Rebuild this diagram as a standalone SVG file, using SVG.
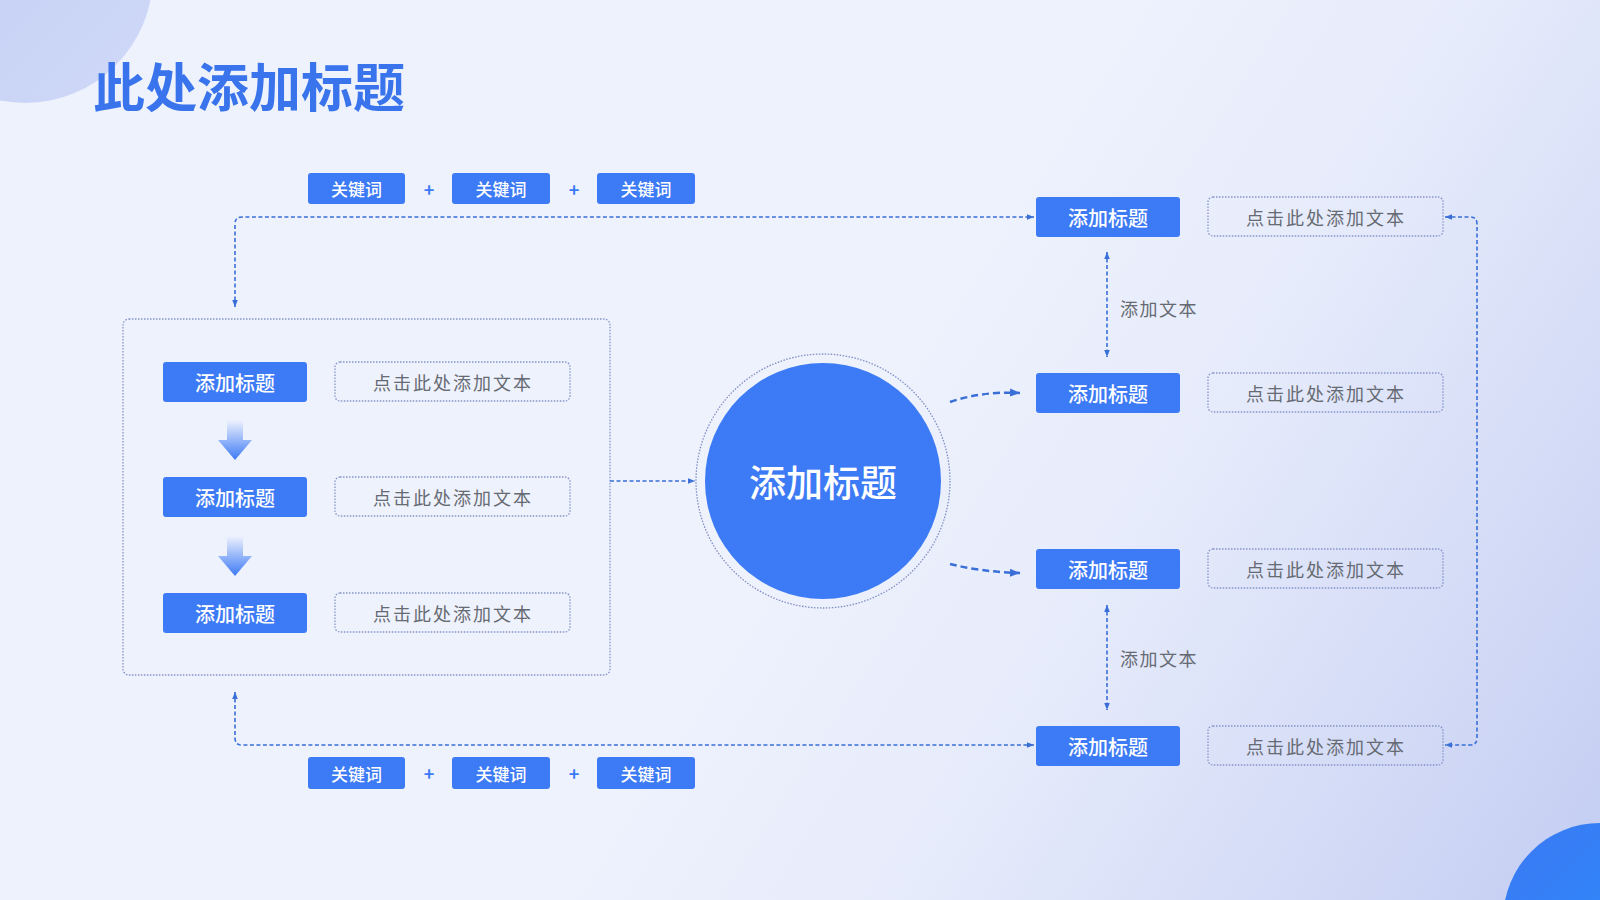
<svg xmlns="http://www.w3.org/2000/svg" width="1600" height="900" viewBox="0 0 1600 900">
<defs>
<linearGradient id="bg" x1="850" y1="420" x2="1600" y2="900" gradientUnits="userSpaceOnUse">
<stop offset="0" stop-color="#eef2fd"/>
<stop offset="0.35" stop-color="#e6ebfb"/>
<stop offset="1" stop-color="#c3cdf2"/>
</linearGradient>
<linearGradient id="tl" x1="0" y1="0" x2="1" y2="1">
<stop offset="0" stop-color="#c2cdf3"/>
<stop offset="1" stop-color="#cfd8f7"/>
</linearGradient>
<linearGradient id="br" x1="0" y1="0" x2="1" y2="1">
<stop offset="0" stop-color="#3a78f2"/>
<stop offset="1" stop-color="#2a93ff"/>
</linearGradient>
<linearGradient id="darr" x1="0" y1="0" x2="0" y2="1">
<stop offset="0" stop-color="#eef2fd"/>
<stop offset="1" stop-color="#3d7af5"/>
</linearGradient>
<marker id="ah" viewBox="0 0 10 10" refX="10" refY="5" markerWidth="7" markerHeight="7" markerUnits="userSpaceOnUse" orient="auto-start-reverse">
<path d="M0,1 L10,5 L0,9 z" fill="#3a6fd8"/>
</marker>
<marker id="ah2" viewBox="0 0 10 10" refX="10" refY="5" markerWidth="10" markerHeight="10" markerUnits="userSpaceOnUse" orient="auto">
<path d="M0,1 L10,5 L0,9 z" fill="#3a6fd8"/>
</marker>
<style>
.box{fill:#3d7af5;}
.kw{fill:#3d7af5;}
.tbox{fill:none;stroke:#8594c8;stroke-width:1.3;stroke-dasharray:1.5 1.5;}
.ttl{font-family:"Noto Sans CJK SC","Noto Sans",sans-serif;font-weight:500;font-size:20px;fill:#ffffff;text-anchor:middle;dominant-baseline:central;}
.kwt{font-family:"Noto Sans CJK SC","Noto Sans",sans-serif;font-weight:500;font-size:17px;fill:#ffffff;text-anchor:middle;dominant-baseline:central;}
.txt{font-family:"Noto Sans CJK SC","Noto Sans",sans-serif;font-size:18px;fill:#666a72;text-anchor:middle;dominant-baseline:central;letter-spacing:2px;}
.lbl{font-family:"Noto Sans CJK SC","Noto Sans",sans-serif;font-size:18px;fill:#666a72;dominant-baseline:central;letter-spacing:1.5px;}
.plus{font-family:"Noto Sans CJK SC","Noto Sans",sans-serif;font-weight:700;font-size:18px;fill:#3d7af5;text-anchor:middle;dominant-baseline:central;}
.con{fill:none;stroke:#3a6fd8;stroke-width:1.6;stroke-dasharray:4 2.5;}
.curve{fill:none;stroke:#3a6fd8;stroke-width:2.5;stroke-dasharray:7 4;}
</style>
</defs>
<rect width="1600" height="900" fill="url(#bg)"/>
<circle cx="25" cy="-25" r="128" fill="url(#tl)"/>
<circle cx="1600" cy="920" r="97" fill="url(#br)"/>
<text x="93" y="84" font-family="'Noto Sans CJK SC','Noto Sans',sans-serif" font-weight="700" font-size="52" fill="#3a74ec" dominant-baseline="central">此处添加标题</text>

<g id="container">
<rect x="123" y="319" width="487" height="356" rx="6" class="tbox"/>
</g>

<g id="connectors">
<path class="con" d="M235,307 V224 Q235,217 242,217 H1034" marker-start="url(#ah)" marker-end="url(#ah)"/>
<path class="con" d="M235,692 V738 Q235,745 242,745 H1034" marker-start="url(#ah)" marker-end="url(#ah)"/>
<path class="con" d="M1445,217 H1470 Q1477,217 1477,224 V738 Q1477,745 1470,745 H1445" marker-start="url(#ah)" marker-end="url(#ah)"/>
<path class="con" d="M610,481 H695" marker-end="url(#ah)"/>
<path class="con" d="M1107,252 V357" marker-start="url(#ah)" marker-end="url(#ah)"/>
<path class="con" d="M1107,605 V710" marker-start="url(#ah)" marker-end="url(#ah)"/>
<path class="curve" d="M950,402 Q982,391 1020,393" marker-end="url(#ah2)"/>
<path class="curve" d="M950,564 Q982,572 1020,573" marker-end="url(#ah2)"/>
<path d="M227,420 H243 V440 H252 L235,460 L218,440 H227 Z" fill="url(#darr)"/>
<path d="M227,536 H243 V556 H252 L235,576 L218,556 H227 Z" fill="url(#darr)"/>
</g>

<g id="kw-top">
<rect class="kw" x="308" y="173" width="97" height="31" rx="3"/><text class="kwt" x="356.5" y="188.5">关键词</text>
<text class="plus" x="429" y="189">+</text>
<rect class="kw" x="452" y="173" width="98" height="31" rx="3"/><text class="kwt" x="501" y="188.5">关键词</text>
<text class="plus" x="574" y="189">+</text>
<rect class="kw" x="597" y="173" width="98" height="31" rx="3"/><text class="kwt" x="646" y="188.5">关键词</text>
</g>
<g id="kw-bottom">
<rect class="kw" x="308" y="757" width="97" height="32" rx="3"/><text class="kwt" x="356.5" y="773">关键词</text>
<text class="plus" x="429" y="773">+</text>
<rect class="kw" x="452" y="757" width="98" height="32" rx="3"/><text class="kwt" x="501" y="773">关键词</text>
<text class="plus" x="574" y="773">+</text>
<rect class="kw" x="597" y="757" width="98" height="32" rx="3"/><text class="kwt" x="646" y="773">关键词</text>
</g>

<g id="left-1">
<rect class="box" x="163" y="362" width="144" height="40" rx="3"/><text class="ttl" x="235" y="382">添加标题</text>
<rect class="tbox" x="335" y="362" width="235" height="39" rx="5"/><text class="txt" x="453" y="382">点击此处添加文本</text>
</g>
<g id="left-2">
<rect class="box" x="163" y="477" width="144" height="40" rx="3"/><text class="ttl" x="235" y="497">添加标题</text>
<rect class="tbox" x="335" y="477" width="235" height="39" rx="5"/><text class="txt" x="453" y="497">点击此处添加文本</text>
</g>
<g id="left-3">
<rect class="box" x="163" y="593" width="144" height="40" rx="3"/><text class="ttl" x="235" y="613">添加标题</text>
<rect class="tbox" x="335" y="593" width="235" height="39" rx="5"/><text class="txt" x="453" y="613">点击此处添加文本</text>
</g>

<g id="center">
<circle cx="823" cy="481" r="127" fill="none" stroke="#7f8fc4" stroke-width="1.3" stroke-dasharray="1.5 1.5"/>
<circle cx="823" cy="481" r="118" fill="#3d7af5"/>
<text x="823" y="481" font-family="'Noto Sans CJK SC','Noto Sans',sans-serif" font-weight="500" font-size="37" fill="#ffffff" text-anchor="middle" dominant-baseline="central">添加标题</text>
</g>

<g id="right-1">
<rect class="box" x="1036" y="197" width="144" height="40" rx="3"/><text class="ttl" x="1108" y="217">添加标题</text>
<rect class="tbox" x="1208" y="197" width="235" height="39" rx="5"/><text class="txt" x="1326" y="217">点击此处添加文本</text>
</g>
<g id="right-2">
<rect class="box" x="1036" y="373" width="144" height="40" rx="3"/><text class="ttl" x="1108" y="393">添加标题</text>
<rect class="tbox" x="1208" y="373" width="235" height="39" rx="5"/><text class="txt" x="1326" y="393">点击此处添加文本</text>
</g>
<g id="right-3">
<rect class="box" x="1036" y="549" width="144" height="40" rx="3"/><text class="ttl" x="1108" y="569">添加标题</text>
<rect class="tbox" x="1208" y="549" width="235" height="39" rx="5"/><text class="txt" x="1326" y="569">点击此处添加文本</text>
</g>
<g id="right-4">
<rect class="box" x="1036" y="726" width="144" height="40" rx="3"/><text class="ttl" x="1108" y="746">添加标题</text>
<rect class="tbox" x="1208" y="726" width="235" height="39" rx="5"/><text class="txt" x="1326" y="746">点击此处添加文本</text>
</g>
<g id="labels">
<text class="lbl" x="1120" y="308">添加文本</text>
<text class="lbl" x="1120" y="658">添加文本</text>
</g>
</svg>
